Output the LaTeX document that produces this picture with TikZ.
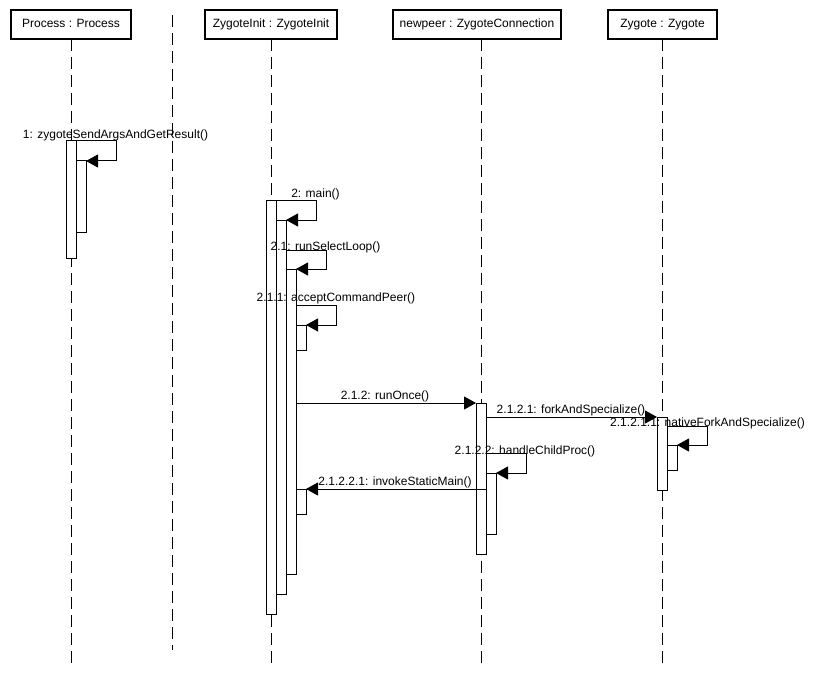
\documentclass[tikz,border=0pt]{standalone}
\usepackage{fontspec}
\setmainfont{Liberation Sans}
\usetikzlibrary{arrows.meta}
\begin{document}
\begin{tikzpicture}[x=1pt,y=-1pt,
  every node/.style={font=\fontsize{12}{14}\selectfont},
  head/.style={draw, line width=2pt, minimum height=29pt, inner sep=0pt, outer sep=0pt, text height=9pt, text depth=2.5pt},
  bar/.style={draw, fill=white, line width=1pt, minimum width=10pt, inner sep=0pt, outer sep=0pt, anchor=north},
  life/.style={line width=1pt, dash pattern=on 12pt off 6pt},
  msg/.style={line width=1pt, -{Triangle[length=12pt,width=13pt]}},
  lbl/.style={inner sep=0pt, anchor=base}]
\fill[white] (0,0) rectangle (814,674);
\useasboundingbox (0,0) rectangle (814,674);
% headers
\node[head, minimum width=120pt] (hP) at (71,24.5) {Process : Process};
\node[head, minimum width=132pt] (hZI) at (271,24.5) {ZygoteInit : ZygoteInit};
\node[head, minimum width=168pt] (hNP) at (477,24.5) {newpeer : ZygoteConnection};
\node[head, minimum width=109pt] (hZ) at (662.5,24.5) {Zygote : Zygote};
% coordinates
\coordinate (bot) at (0,665);
\coordinate (sepTop) at (172,15);
\coordinate (sepBot) at (172,650);
\coordinate (xP) at (71,0);
\coordinate (xZI) at (271,0);
\coordinate (xNP) at (481,0);
\coordinate (xZ) at (662,0);
% lifelines
\draw[life] (hP.south -| xP) -- (xP |- bot);
\draw[life] (hZI.south -| xZI) -- (xZI |- bot);
\draw[life] (hNP.south -| xNP) -- (xNP |- bot);
\draw[life] (hZ.south -| xZ) -- (xZ |- bot);
\draw[life] (sepTop) -- (sepBot);
% activation bars
\node[bar, minimum height=117pt] (P1) at (71,141) {};
\node[bar, minimum height=71pt] (P2) at (81,161) {};
\node[bar, minimum height=414pt] (Z1) at (271,200) {};
\node[bar, minimum height=374pt] (Z2) at (281,220) {};
\node[bar, minimum height=305pt] (Z3) at (291,269) {};
\node[bar, minimum height=25pt] (Z4) at (301,325) {};
\node[bar, minimum height=25pt] (Z5) at (301,489) {};
\node[bar, minimum height=151pt] (N1) at (481,403) {};
\node[bar, minimum height=61pt] (N2) at (491,473) {};
\node[bar, minimum height=73pt] (G1) at (662,417) {};
\node[bar, minimum height=25pt] (G2) at (672,445) {};
% loop start points
\coordinate (s3) at (286,250);
\coordinate (s4) at (296,305);
\coordinate (s7) at (667,426);
\coordinate (s8) at (486,453);
% messages
\draw[msg] (P1.north east) -- ++(40,0) |- (P2.north east);
\draw[msg] (Z1.north east) -- ++(40,0) |- (Z2.north east);
\draw[msg] (s3) -- ++(40,0) |- (Z3.north east);
\draw[msg] (s4) -- ++(40,0) |- (Z4.north east);
\draw[msg] (Z3.east |- N1.north) -- (N1.north west);
\draw[msg] (N1.east |- G1.north) -- (G1.north west);
\draw[msg] (s7) -- ++(40,0) |- (G2.north east);
\draw[msg] (s8) -- ++(40,0) |- (N2.north east);
\draw[msg] (N1.east |- Z5.north) -- (Z5.north east);
% labels
\node[lbl] (L1) at (115.5,139) {1: zygoteSendArgsAndGetResult()};
\node[lbl] (L2) at (315.5,197) {2: main()};
\node[lbl] (L3) at (325.5,250) {2.1: runSelectLoop()};
\node[lbl] (L4) at (336,301) {2.1.1: acceptCommandPeer()};
\node[lbl] (L5) at (385,399) {2.1.2: runOnce()};
\node[lbl] (L6) at (571,413) {2.1.2.1: forkAndSpecialize()};
\node[lbl] (L7) at (707.5,426) {2.1.2.1.1: nativeForkAndSpecialize()};
\node[lbl] (L8) at (525,454) {2.1.2.2: handleChildProc()};
\node[lbl] (L9) at (395,485) {2.1.2.2.1: invokeStaticMain()};
\end{tikzpicture}
\end{document}
